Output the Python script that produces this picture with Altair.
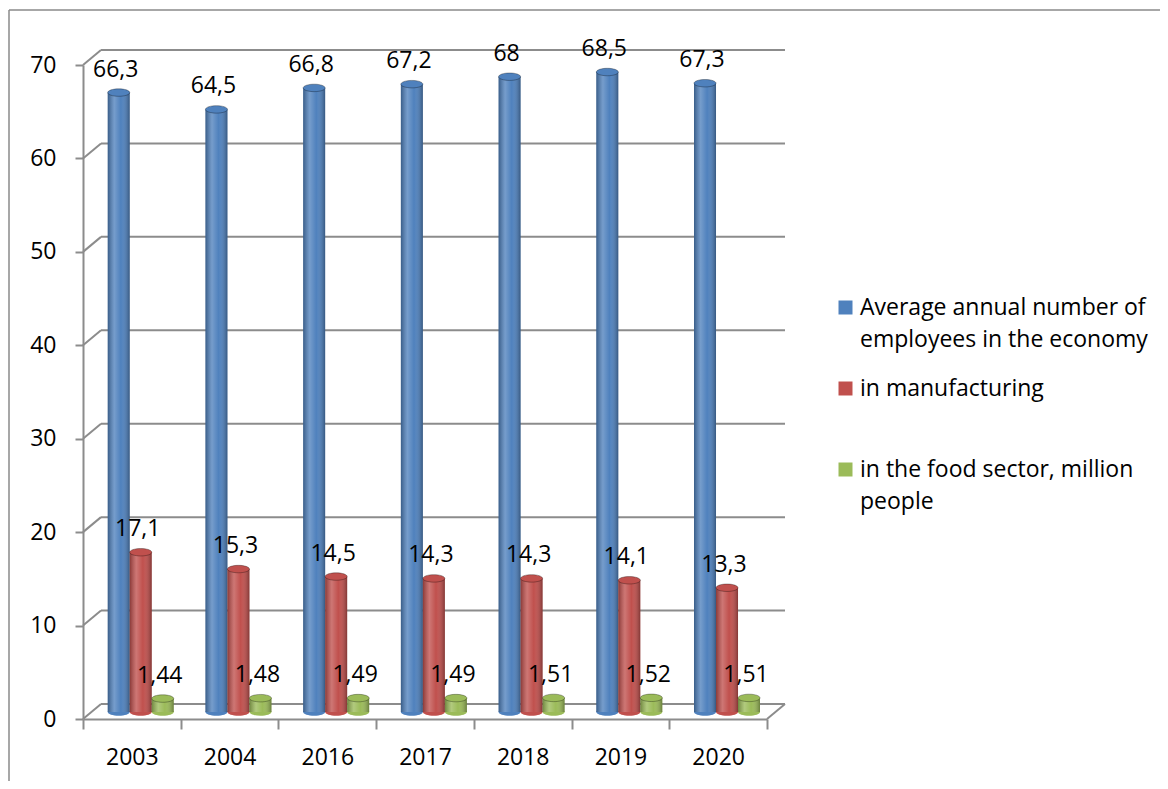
import altair as alt
import pandas as pd

years = ["2003", "2004", "2016", "2017", "2018", "2019", "2020"]
economy = [66.3, 64.5, 66.8, 67.2, 68, 68.5, 67.3]
manufacturing = [17.1, 15.3, 14.5, 14.3, 14.3, 14.1, 13.3]
food = [1.44, 1.48, 1.49, 1.49, 1.51, 1.52, 1.51]
series_names = [
    "Average annual number of employees in the economy",
    "in manufacturing",
    "in the food sector, million people",
]
series_colors = ["#4F81BD", "#C0504D", "#9BBB59"]
y_ticks = [0, 10, 20, 30, 40, 50, 60, 70]

rows = []
for s, vals in zip(series_names, [economy, manufacturing, food]):
    for yr, v in zip(years, vals):
        rows.append({"year": yr, "series": s, "value": v, "zero": 0,
                     "label": f"{v:g}".replace(".", ",")})
df = pd.DataFrame(rows)
ticks_df = pd.DataFrame({"value": y_ticks})
zero_df = pd.DataFrame({"value": [0]})

FONT = "Open Sans"
FS = 23
W, H = 684, 654
DX, DY = 18, -15
GRID = "#8C8C8C"
BY = -7

yscale = alt.Scale(domain=[0, 70], nice=False, zero=True)
xscale = alt.Scale(paddingInner=0, paddingOuter=0)
color_scale = alt.Scale(domain=series_names, range=series_colors)
off_scale = alt.Scale(domain=series_names, paddingInner=0, paddingOuter=0.72, align=0.78)

X = alt.X("year:N", scale=xscale, sort=years, title=None,
          axis=alt.Axis(labelAngle=0, tickBand="extent", tickSize=10, tickWidth=2,
                        tickColor=GRID, domainColor=GRID, domainWidth=2,
                        labelFont=FONT, labelFontSize=FS, labelColor="black",
                        labelPadding=17))
XO = alt.XOffset("series:N", scale=off_scale, sort=series_names)
YAXIS = alt.Axis(values=y_ticks, grid=False, tickSize=8, tickWidth=2,
                 tickColor=GRID, domainColor=GRID, domainWidth=2,
                 labelFont=FONT, labelFontSize=FS, labelColor="black",
                 labelPadding=19)
Y = alt.Y("value:Q", scale=yscale, title=None, axis=YAXIS)
LEGEND = alt.Legend(
    title=None, orient="none", legendX=751, legendY=231,
    symbolType="square", symbolSize=196, symbolStrokeWidth=0,
    labelFont=FONT, labelFontSize=FS, labelColor="black",
    labelLimit=500, labelOffset=3, rowPadding=25, padding=0,
    labelExpr=(
        "datum.label == 'in manufacturing' ? ['in manufacturing', ''] : "
        "datum.label == 'in the food sector, million people' ? "
        "['in the food sector, million', 'people'] : "
        "['Average annual number of', 'employees in the economy']"))
C = alt.Color("series:N", scale=color_scale, sort=series_names, legend=LEGEND)

# back wall gridlines and the 3D connectors
back_grid = alt.Chart(ticks_df).mark_rule(color=GRID, strokeWidth=2, yOffset=DY).encode(
    y=Y, x=alt.value(DX), x2=alt.value(W + DX))
diag = alt.Chart(ticks_df).mark_rule(color=GRID, strokeWidth=2, y2Offset=DY).encode(
    y=Y, y2=alt.Y2("value:Q"), x=alt.value(0), x2=alt.value(DX))
floor_diag = alt.Chart(zero_df).mark_rule(color=GRID, strokeWidth=2, y2Offset=DY).encode(
    y=Y, y2=alt.Y2("value:Q"), x=alt.value(W), x2=alt.value(W + DX))

ELLIPSE = "M -1 0 A 1 0.34 0 1 1 1 0 A 1 0.34 0 1 1 -1 0 Z"

base = alt.Chart(df)

bottoms = base.mark_point(shape=ELLIPSE, size=484, filled=True, opacity=1,
                          yOffset=BY).encode(
    x=X, xOffset=XO, y=alt.Y("zero:Q", scale=yscale, title=None, axis=YAXIS),
    color=C,
)

bars = base.mark_bar(yOffset=BY, y2Offset=BY).encode(
    x=X, xOffset=XO, y=Y, y2=alt.datum(0), color=C)

shade = base.mark_bar(
    yOffset=BY, y2Offset=BY,
    color=alt.Gradient(gradient="linear", x1=0, x2=1, y1=0, y2=0, stops=[
        alt.GradientStop(color="rgba(0,0,0,0.28)", offset=0),
        alt.GradientStop(color="rgba(255,255,255,0.22)", offset=0.3),
        alt.GradientStop(color="rgba(255,255,255,0)", offset=0.6),
        alt.GradientStop(color="rgba(0,0,0,0.32)", offset=1),
    ])).encode(x=X, xOffset=XO, y=Y, y2=alt.datum(0))

tops = base.mark_point(shape=ELLIPSE, size=484, filled=True, opacity=1,
                       yOffset=BY, stroke="black", strokeOpacity=0.3,
                       strokeWidth=1).encode(x=X, xOffset=XO, y=Y, color=C)

labels = base.mark_text(font=FONT, fontSize=FS, baseline="middle", align="center",
                        dx=-3, dy=-30, color="black").encode(
    x=X, xOffset=XO, y=Y, text="label:N")

border_left = alt.Chart(zero_df).mark_rule(color="#8A8A8A", strokeWidth=1.5).encode(
    x=alt.value(-74), y=alt.value(-55), y2=alt.value(730))
border_top = alt.Chart(zero_df).mark_rule(color="#8A8A8A", strokeWidth=1.5).encode(
    x=alt.value(-74), x2=alt.value(1085), y=alt.value(-55))

chart = alt.layer(
    border_left, border_top, back_grid, diag, floor_diag, bottoms, bars, shade, tops, labels
).properties(
    width=W, height=H,
    autosize=alt.AutoSizeParams(type="none"),
    padding={"left": 75, "top": 57, "right": 393, "bottom": 62},
    background="white",
).configure(
    view={"strokeWidth": 0, "stroke": None},
    style={"guide-label": {"lineHeight": 32}},
)

chart.save("out.html", embed_options={"renderer": "svg", "actions": False})
